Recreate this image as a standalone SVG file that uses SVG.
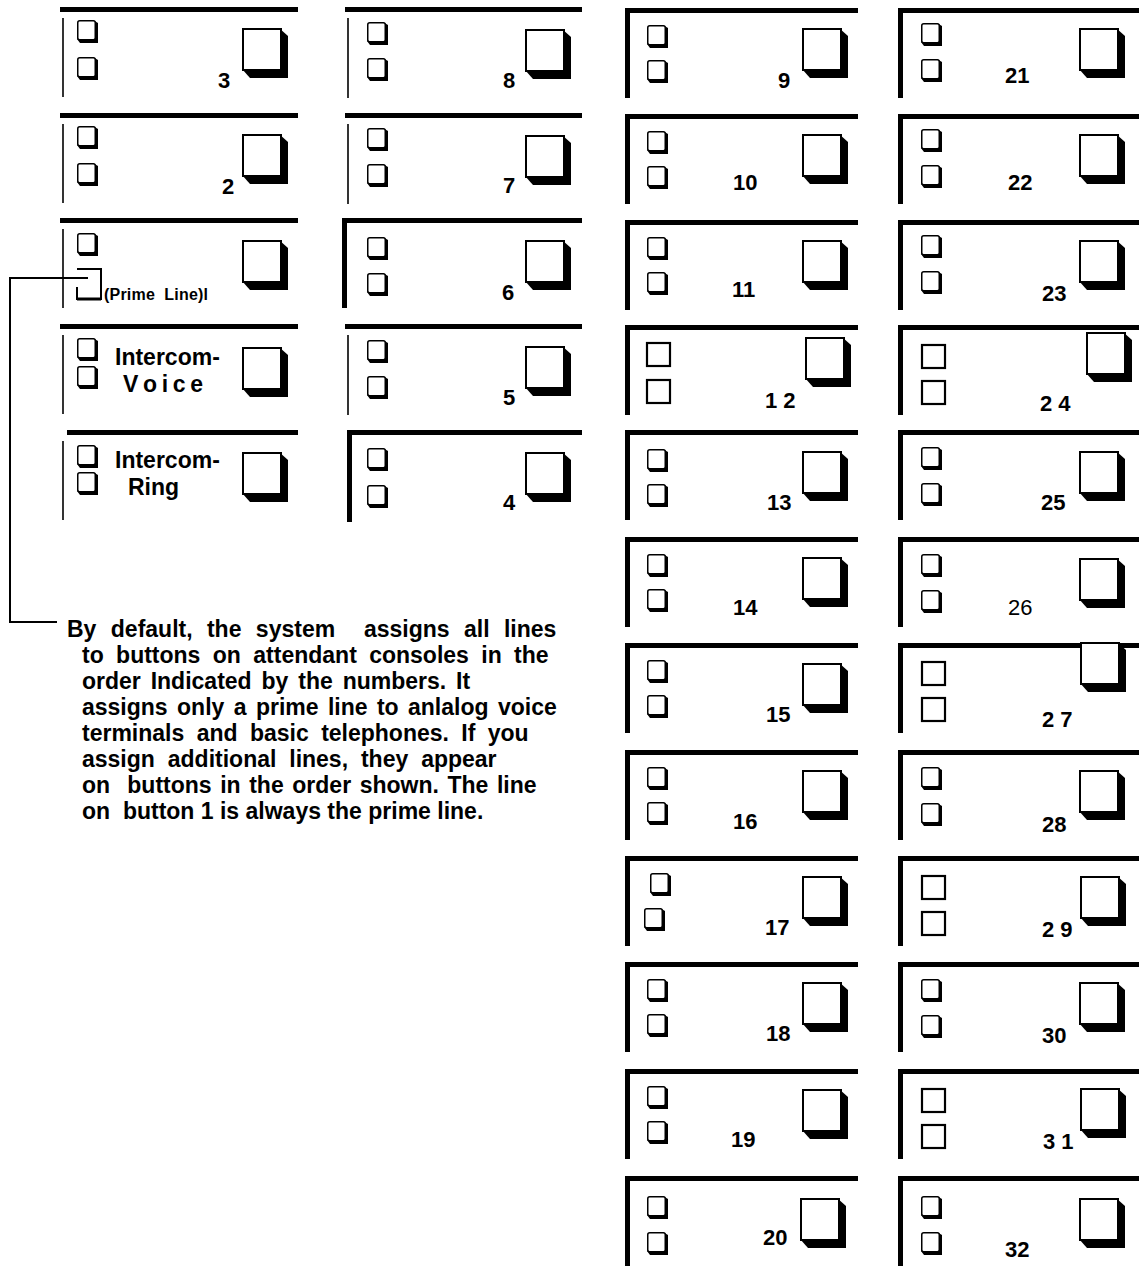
<svg xmlns="http://www.w3.org/2000/svg" width="1139" height="1272" viewBox="0 0 1139 1272">
<style>
.bar{fill:#000}
.thin{stroke:#000;stroke-width:1.6;fill:none}
.num{font-family:"Liberation Sans",Arial,sans-serif;font-weight:bold;font-size:22px;fill:#000}
.numr{font-family:"Liberation Sans",Arial,sans-serif;font-weight:normal;font-size:22px;fill:#000}
.lbl{font-family:"Liberation Sans",Arial,sans-serif;font-weight:bold;font-size:23px;fill:#000}
.note{font-family:"Liberation Sans",Arial,sans-serif;font-weight:bold;font-size:23px;fill:#000}
.conn{stroke:#000;stroke-width:2;fill:none}
</style>
<defs>
<g id="sb"><path d="M16,0 L21,3 L21,23 L3,23 L0,19 Z" fill="#000"/><rect x="0.75" y="0.75" width="17.5" height="19" rx="2" fill="#fff" stroke="#000" stroke-width="1.5"/></g>
<g id="lb"><path d="M37,0 L46,8 L46,50 L8,50 L0,41 Z" fill="#000"/><rect x="1" y="1" width="38" height="41" fill="#fff" stroke="#000" stroke-width="2"/></g>
<rect id="pb" x="1" y="1" width="23" height="23" fill="#fff" stroke="#000" stroke-width="2.2"/>
</defs>

<!-- Column 1 -->
<g id="cell-3">
<rect class="bar" x="60" y="7" width="238" height="5"/><line class="thin" x1="63" y1="18" x2="63" y2="97"/>
<use href="#sb" x="77" y="20"/><use href="#sb" x="77" y="57"/><use href="#lb" x="242" y="28"/>
<text class="num" x="218" y="88">3</text>
</g>
<g id="cell-2">
<rect class="bar" x="60" y="113" width="238" height="5"/><line class="thin" x1="63" y1="124" x2="63" y2="203"/>
<use href="#sb" x="77" y="126"/><use href="#sb" x="77" y="163"/><use href="#lb" x="242" y="134"/>
<text class="num" x="222" y="194">2</text>
</g>
<g id="cell-1">
<rect class="bar" x="60" y="218" width="238" height="5"/><line class="thin" x1="63" y1="229" x2="63" y2="308"/>
<use href="#sb" x="77" y="233"/>
<path d="M77,269 H101 V299 H77 V287" fill="none" stroke="#000" stroke-width="2"/>
<line x1="77" y1="299" x2="101" y2="299" stroke="#000" stroke-width="3"/>
<text class="lbl" x="104" y="300" style="font-size:16px" textLength="104" lengthAdjust="spacing" xml:space="preserve">(Prime  Line)l</text>
<use href="#lb" x="242" y="240"/>
</g>
<g id="cell-intercom-voice">
<rect class="bar" x="60" y="324" width="238" height="5"/><line class="thin" x1="63" y1="335" x2="63" y2="414"/>
<use href="#sb" x="77" y="338"/><use href="#sb" x="77" y="366"/><use href="#lb" x="242" y="347"/>
<text class="lbl" x="115" y="365">Intercom-</text>
<text class="lbl" x="123" y="392" textLength="80" lengthAdjust="spacing">V o i c e</text>
</g>
<g id="cell-intercom-ring">
<rect class="bar" x="67" y="430" width="231" height="5"/><line class="thin" x1="63" y1="441" x2="63" y2="520"/>
<use href="#sb" x="77" y="445"/><use href="#sb" x="77" y="472"/><use href="#lb" x="242" y="452"/>
<text class="lbl" x="115" y="468">Intercom-</text>
<text class="lbl" x="128" y="495">Ring</text>
</g>

<!-- Column 2 -->
<g id="cell-8">
<rect class="bar" x="345" y="7" width="237" height="5"/><line class="thin" x1="348" y1="18" x2="348" y2="98"/>
<use href="#sb" x="367" y="22"/><use href="#sb" x="367" y="58"/><use href="#lb" x="525" y="29"/>
<text class="num" x="503" y="88">8</text>
</g>
<g id="cell-7">
<rect class="bar" x="345" y="113" width="237" height="5"/><line class="thin" x1="348" y1="124" x2="348" y2="204"/>
<use href="#sb" x="367" y="128"/><use href="#sb" x="367" y="164"/><use href="#lb" x="525" y="135"/>
<text class="num" x="503" y="193">7</text>
</g>
<g id="cell-6">
<rect class="bar" x="342" y="218" width="240" height="5"/><rect class="bar" x="342" y="218" width="5" height="90"/>
<use href="#sb" x="367" y="237"/><use href="#sb" x="367" y="273"/><use href="#lb" x="525" y="240"/>
<text class="num" x="502" y="300">6</text>
</g>
<g id="cell-5">
<rect class="bar" x="345" y="324" width="237" height="5"/><line class="thin" x1="348" y1="335" x2="348" y2="415"/>
<use href="#sb" x="367" y="340"/><use href="#sb" x="367" y="376"/><use href="#lb" x="525" y="346"/>
<text class="num" x="503" y="405">5</text>
</g>
<g id="cell-4">
<rect class="bar" x="347" y="430" width="235" height="5"/><rect class="bar" x="347" y="430" width="5" height="92"/>
<use href="#sb" x="367" y="448"/><use href="#sb" x="367" y="485"/><use href="#lb" x="525" y="452"/>
<text class="num" x="503" y="510">4</text>
</g>

<!-- Column 3 -->
<g id="cell-9"><rect class="bar" x="625" y="8" width="233" height="5"/><rect class="bar" x="625" y="8" width="5" height="90"/>
<use href="#sb" x="647" y="25"/><use href="#sb" x="647" y="60"/><use href="#lb" x="802" y="28"/><text class="num" x="778" y="88">9</text></g>
<g id="cell-10"><rect class="bar" x="625" y="114" width="233" height="5"/><rect class="bar" x="625" y="114" width="5" height="90"/>
<use href="#sb" x="647" y="131"/><use href="#sb" x="647" y="166"/><use href="#lb" x="802" y="134"/><text class="num" x="733" y="190">10</text></g>
<g id="cell-11"><rect class="bar" x="625" y="220" width="233" height="5"/><rect class="bar" x="625" y="220" width="5" height="90"/>
<use href="#sb" x="647" y="237"/><use href="#sb" x="647" y="272"/><use href="#lb" x="802" y="240"/><text class="num" x="732" y="297">11</text></g>
<g id="cell-12"><rect class="bar" x="625" y="325" width="233" height="5"/><rect class="bar" x="625" y="325" width="5" height="90"/>
<use href="#pb" x="646" y="342"/><use href="#pb" x="646" y="379"/><use href="#lb" x="805" y="337"/><text class="num" x="765" y="408">1 2</text></g>
<g id="cell-13"><rect class="bar" x="625" y="430" width="233" height="5"/><rect class="bar" x="625" y="430" width="5" height="90"/>
<use href="#sb" x="647" y="449"/><use href="#sb" x="647" y="484"/><use href="#lb" x="802" y="451"/><text class="num" x="767" y="510">13</text></g>
<g id="cell-14"><rect class="bar" x="625" y="537" width="233" height="5"/><rect class="bar" x="625" y="537" width="5" height="90"/>
<use href="#sb" x="647" y="554"/><use href="#sb" x="647" y="589"/><use href="#lb" x="802" y="557"/><text class="num" x="733" y="615">14</text></g>
<g id="cell-15"><rect class="bar" x="625" y="643" width="233" height="5"/><rect class="bar" x="625" y="643" width="5" height="90"/>
<use href="#sb" x="647" y="660"/><use href="#sb" x="647" y="695"/><use href="#lb" x="802" y="663"/><text class="num" x="766" y="722">15</text></g>
<g id="cell-16"><rect class="bar" x="625" y="750" width="233" height="5"/><rect class="bar" x="625" y="750" width="5" height="90"/>
<use href="#sb" x="647" y="767"/><use href="#sb" x="647" y="802"/><use href="#lb" x="802" y="770"/><text class="num" x="733" y="829">16</text></g>
<g id="cell-17"><rect class="bar" x="625" y="856" width="233" height="5"/><rect class="bar" x="625" y="856" width="5" height="90"/>
<use href="#sb" x="650" y="873"/><use href="#sb" x="644" y="908"/><use href="#lb" x="802" y="876"/><text class="num" x="765" y="935">17</text></g>
<g id="cell-18"><rect class="bar" x="625" y="962" width="233" height="5"/><rect class="bar" x="625" y="962" width="5" height="90"/>
<use href="#sb" x="647" y="979"/><use href="#sb" x="647" y="1014"/><use href="#lb" x="802" y="982"/><text class="num" x="766" y="1041">18</text></g>
<g id="cell-19"><rect class="bar" x="625" y="1069" width="233" height="5"/><rect class="bar" x="625" y="1069" width="5" height="90"/>
<use href="#sb" x="647" y="1086"/><use href="#sb" x="647" y="1121"/><use href="#lb" x="802" y="1089"/><text class="num" x="731" y="1147">19</text></g>
<g id="cell-20"><rect class="bar" x="625" y="1176" width="233" height="5"/><rect class="bar" x="625" y="1176" width="5" height="90"/>
<use href="#sb" x="647" y="1196"/><use href="#sb" x="647" y="1232"/><use href="#lb" x="800" y="1198"/><text class="num" x="763" y="1245">20</text></g>

<!-- Column 4 -->
<g id="cell-21"><rect class="bar" x="898" y="8" width="241" height="5"/><rect class="bar" x="898" y="8" width="5" height="90"/>
<use href="#sb" x="921" y="23"/><use href="#sb" x="921" y="59"/><use href="#lb" x="1079" y="28"/><text class="num" x="1005" y="83">21</text></g>
<g id="cell-22"><rect class="bar" x="898" y="114" width="241" height="5"/><rect class="bar" x="898" y="114" width="5" height="90"/>
<use href="#sb" x="921" y="129"/><use href="#sb" x="921" y="165"/><use href="#lb" x="1079" y="134"/><text class="num" x="1008" y="190">22</text></g>
<g id="cell-23"><rect class="bar" x="898" y="220" width="241" height="5"/><rect class="bar" x="898" y="220" width="5" height="90"/>
<use href="#sb" x="921" y="235"/><use href="#sb" x="921" y="271"/><use href="#lb" x="1079" y="240"/><text class="num" x="1042" y="301">23</text></g>
<g id="cell-24"><rect class="bar" x="898" y="325" width="241" height="5"/><rect class="bar" x="898" y="325" width="5" height="90"/>
<use href="#pb" x="921" y="344"/><use href="#pb" x="921" y="380"/><use href="#lb" x="1086" y="332"/><text class="num" x="1040" y="411">2 4</text></g>
<g id="cell-25"><rect class="bar" x="898" y="430" width="241" height="5"/><rect class="bar" x="898" y="430" width="5" height="90"/>
<use href="#sb" x="921" y="447"/><use href="#sb" x="921" y="483"/><use href="#lb" x="1079" y="451"/><text class="num" x="1041" y="510">25</text></g>
<g id="cell-26"><rect class="bar" x="898" y="537" width="241" height="5"/><rect class="bar" x="898" y="537" width="5" height="90"/>
<use href="#sb" x="921" y="554"/><use href="#sb" x="921" y="590"/><use href="#lb" x="1079" y="558"/><text class="numr" x="1008" y="615">26</text></g>
<g id="cell-27"><rect class="bar" x="898" y="643" width="241" height="5"/><rect class="bar" x="898" y="643" width="5" height="90"/>
<use href="#pb" x="921" y="661"/><use href="#pb" x="921" y="697"/><use href="#lb" x="1080" y="642"/><text class="num" x="1042" y="727">2 7</text></g>
<g id="cell-28"><rect class="bar" x="898" y="750" width="241" height="5"/><rect class="bar" x="898" y="750" width="5" height="90"/>
<use href="#sb" x="921" y="767"/><use href="#sb" x="921" y="803"/><use href="#lb" x="1079" y="770"/><text class="num" x="1042" y="832">28</text></g>
<g id="cell-29"><rect class="bar" x="898" y="856" width="241" height="5"/><rect class="bar" x="898" y="856" width="5" height="90"/>
<use href="#pb" x="921" y="875"/><use href="#pb" x="921" y="911"/><use href="#lb" x="1080" y="876"/><text class="num" x="1042" y="937">2 9</text></g>
<g id="cell-30"><rect class="bar" x="898" y="962" width="241" height="5"/><rect class="bar" x="898" y="962" width="5" height="90"/>
<use href="#sb" x="921" y="979"/><use href="#sb" x="921" y="1015"/><use href="#lb" x="1079" y="982"/><text class="num" x="1042" y="1043">30</text></g>
<g id="cell-31"><rect class="bar" x="898" y="1069" width="241" height="5"/><rect class="bar" x="898" y="1069" width="5" height="90"/>
<use href="#pb" x="921" y="1088"/><use href="#pb" x="921" y="1124"/><use href="#lb" x="1080" y="1088"/><text class="num" x="1043" y="1149">3 1</text></g>
<g id="cell-32"><rect class="bar" x="898" y="1176" width="241" height="5"/><rect class="bar" x="898" y="1176" width="5" height="90"/>
<use href="#sb" x="921" y="1196"/><use href="#sb" x="921" y="1232"/><use href="#lb" x="1079" y="1198"/><text class="num" x="1005" y="1257">32</text></g>

<!-- Connector -->
<g id="connectors">
<polyline class="conn" points="88,278 10,278 10,622 57,622"/>
</g>

<!-- Note -->
<g id="note">
<text class="note" x="67" y="637" style="word-spacing:8px" xml:space="preserve">By default, the system  assigns all lines</text>
<text class="note" x="82" y="663" style="word-spacing:6px">to buttons on attendant consoles in the</text>
<text class="note" x="82" y="689" style="word-spacing:3.5px">order Indicated by the numbers. It</text>
<text class="note" x="82" y="715" style="word-spacing:3px">assigns only a prime line to anlalog voice</text>
<text class="note" x="82" y="741" style="word-spacing:6px">terminals and basic telephones. If you</text>
<text class="note" x="82" y="767" style="word-spacing:6.5px">assign additional lines, they appear</text>
<text class="note" x="82" y="793" style="word-spacing:2.2px" xml:space="preserve">on  buttons in the order shown. The line</text>
<text class="note" x="82" y="819" xml:space="preserve">on  button 1 is always the prime line.</text>
</g>
</svg>
